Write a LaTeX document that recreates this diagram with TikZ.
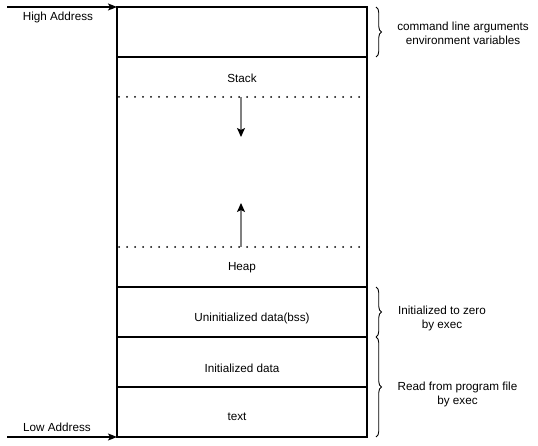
\documentclass[tikz,border=0pt]{standalone}
\usepackage{fontspec}
\setmainfont{Liberation Sans}
\usetikzlibrary{arrows.meta,decorations.pathreplacing}
\begin{document}
\begin{tikzpicture}[x=1pt,y=-1pt,
  seg/.style={draw=black,line width=1.1pt,inner sep=0pt},
  lbl/.style={font=\fontsize{11.7}{14}\selectfont,inner sep=0pt,align=center},
  dotline/.style={line width=2pt,line cap=round,dash pattern=on 0pt off 8pt,black},
  growarrow/.style={draw=black!50,line width=1.3pt,-{Stealth[black,length=9pt,width=8pt,inset=2pt]}},
  addr/.style={line width=1.1pt,-{Stealth[black,length=9pt,width=7pt,inset=2pt]}},
  curly/.style={line width=0.9pt,decorate,decoration={brace,amplitude=5.5pt}}]
\useasboundingbox (0,0) rectangle (538,446);
% segments
\draw[seg] (117,7) rectangle (367,57);
\draw[seg] (117,57) rectangle (367,287);
\draw[seg] (117,287) rectangle (367,337);
\draw[seg] (117,337) rectangle (367,387);
\draw[seg] (117,387) rectangle (367,437);
\coordinate (tl) at (117,7);
\coordinate (bl) at (117,437);
\coordinate (hs) at (7,7);
\coordinate (ls) at (7,437);
% labels
\node[lbl] (stack) at (242,78) {Stack};
\node[lbl] (heap) at (242,268) {Heap};
\node[lbl] (bss) at (252,318) {Uninitialized data(bss)};
\node[lbl] (idata) at (242,368) {Initialized data};
\node[lbl] (txt) at (237,417) {text};
% dotted boundaries
\coordinate (d1a) at (119,97); \coordinate (d1b) at (367.5,97);
\coordinate (d2a) at (119,247); \coordinate (d2b) at (367.5,247);
\draw[dotline] (d1a) -- (d1b);
\draw[dotline] (d2a) -- (d2b);
% growth arrows
\coordinate (sa) at (241,97); \coordinate (sb) at (241,137);
\coordinate (ha) at (241,247); \coordinate (hb) at (241,203);
\draw[growarrow] (sa) -- (sb);
\draw[growarrow] (ha) -- (hb);
% address arrows
\draw[addr] (hs) -- (tl);
\draw[addr] (ls) -- (bl);
\node[lbl] (high) at (58,17) {High Address};
\node[lbl] (low) at (57,427) {Low Address};
% braces
\coordinate (b1a) at (376,7); \coordinate (b1b) at (376,57);
\coordinate (b2a) at (376,287); \coordinate (b2b) at (376,337);
\coordinate (b3a) at (376,337); \coordinate (b3b) at (376,437);
\draw[curly] (b1a) -- (b1b);
\draw[curly] (b2a) -- (b2b);
\draw[curly] (b3a) -- (b3b);
\node[lbl] (args) at (463,33) {command line arguments\\environment variables};
\node[lbl] (zero) at (442,318.5) {Initialized to zero\\by exec};
\node[lbl] (read) at (457.5,394) {Read from program file\\by exec};
\end{tikzpicture}
\end{document}
